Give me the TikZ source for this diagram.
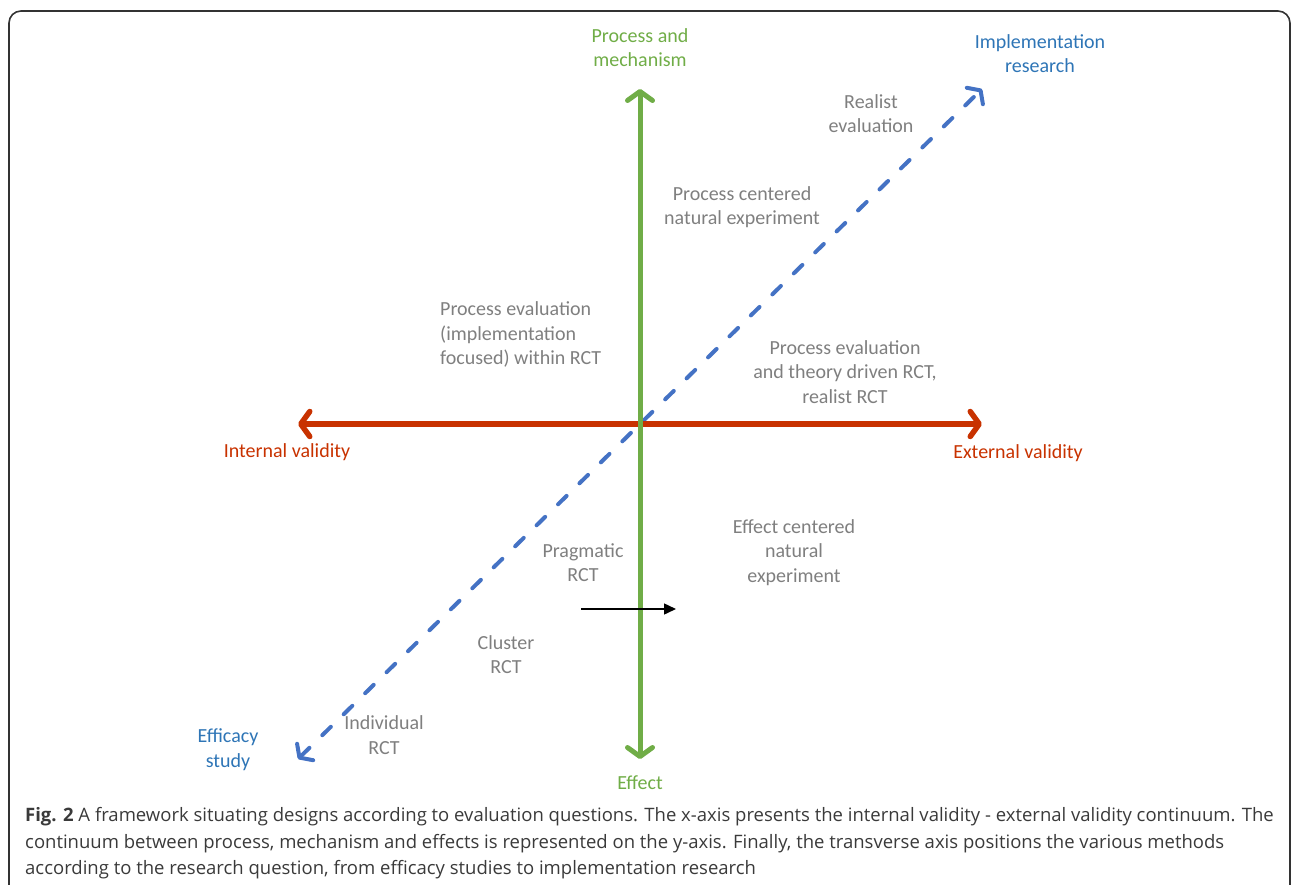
\documentclass[tikz,border=0pt]{standalone}
\usepackage{fontspec}
\setmainfont{Carlito}
\newfontfamily\capfont{Open Sans}
\usetikzlibrary{arrows.meta}
\definecolor{axgreen}{HTML}{70AD47}
\definecolor{axred}{HTML}{C83200}
\definecolor{axblue}{HTML}{4472C4}
\definecolor{txtblue}{HTML}{2E75B6}
\definecolor{txtgray}{HTML}{7F7F7F}
\definecolor{capgray}{HTML}{3A3A3A}
\definecolor{framegray}{HTML}{333333}
\tikzset{
  lbl/.style={inner sep=0pt, align=center, font=\fontsize{20bp}{24.5bp}\selectfont},
  graylbl/.style={lbl, text=txtgray},
  greenaxis/.style={draw=axgreen, line width=5bp, {Straight Barb[length=9bp,width=25bp,round]}-{Straight Barb[length=9bp,width=25bp,round]}},
  redaxis/.style={draw=axred, line width=5.5bp, {Straight Barb[length=9bp,width=25bp,round]}-{Straight Barb[length=9bp,width=25bp,round]}},
  blueaxis/.style={draw=axblue, line width=4bp, line cap=round, dash pattern=on 12bp off 18bp, {Straight Barb[length=8bp,width=23bp,round]}-{Straight Barb[length=8bp,width=23bp,round]}},
  caption/.style={anchor=base west, inner sep=0pt, text=capgray, font=\capfont\fontsize{18.5bp}{22bp}\selectfont},
}
\begin{document}
\begin{tikzpicture}[x=1bp,y=-1bp]
\useasboundingbox (0,0) rectangle (1292,885);
\draw[framegray, line width=1.6bp, rounded corners=12bp] (9,900) -- (9,11) -- (1290,11) -- (1290,900);

% axis end points
\coordinate (gtop) at (640,89);
\coordinate (gbot) at (640,759);
\coordinate (rleft) at (298,424);
\coordinate (rright) at (982,424);
\coordinate (bll) at (298,759);
\coordinate (bur) at (982,89);
\coordinate (ka) at (581,609);
\coordinate (kb) at (676,609);

\draw[blueaxis] (bll) -- (bur);
\draw[redaxis] (rleft) -- (rright);
\draw[greenaxis] (gbot) -- (gtop);
\draw[line width=1.5bp, -{Triangle[length=12bp,width=11bp]}] (ka) -- (kb);

% labels
\node[lbl, text=axgreen] (pm) at (640,47.5) {Process and\\mechanism};
\node[lbl, text=txtblue] (ir) at (1040,53.5) {Implementation\\research};
\node[graylbl] (re) at (871,113.5) {Realist\\evaluation};
\node[graylbl] (pcne) at (742,207) {Process centered\\natural experiment};
\node[graylbl, align=left, anchor=west] (pe) at (440,334.5) {Process evaluation\\(implementation\\focused) within RCT};
\node[graylbl] (pet) at (845,372) {Process evaluation\\and theory driven RCT,\\realist RCT};
\node[lbl, text=axred] (iv) at (287,452) {Internal validity};
\node[lbl, text=axred] (ev) at (1018,453) {External validity};
\node[graylbl] (ecne) at (794,552.5) {Effect centered\\natural\\experiment};
\node[graylbl] (prct) at (583,562.5) {Pragmatic\\RCT};
\node[graylbl] (crct) at (506,654.5) {Cluster\\RCT};
\node[graylbl] (irct) at (384,735) {Individual\\RCT};
\node[lbl, text=txtblue] (es) at (228,749.5) {Efficacy\\study};
\node[lbl, text=axgreen] (ef) at (640,783) {Effect};

% caption
\node[caption] (c1) at (25,821) {\textbf{Fig. 2} A framework situating designs according to evaluation questions. The x-axis presents the internal validity - external validity continuum. The};
\node[caption] (c2) at (25,848) {continuum between process, mechanism and effects is represented on the y-axis. Finally, the transverse axis positions the various methods};
\node[caption] (c3) at (25,874) {according to the research question, from efficacy studies to implementation research};
\end{tikzpicture}
\end{document}
